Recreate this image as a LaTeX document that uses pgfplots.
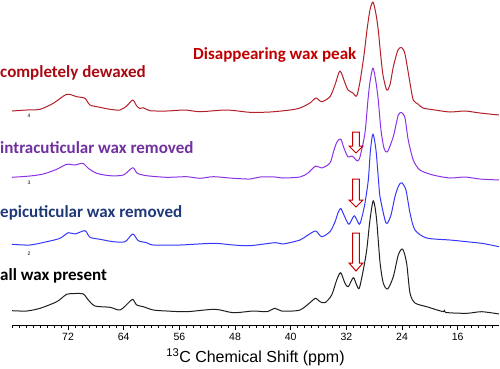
\documentclass[border=0pt]{standalone}
\usepackage{pgfplots}
\pgfplotsset{compat=1.18}
\usepackage{fontspec}
\setmainfont{Liberation Sans}
\newfontfamily\calibri{Carlito}
\definecolor{trRed}{RGB}{180,32,40}
\definecolor{trPurple}{RGB}{140,50,230}
\definecolor{trBlue}{RGB}{55,55,250}
\definecolor{trBlack}{RGB}{30,30,30}
\definecolor{lblRed}{RGB}{168,10,20}
\definecolor{lblRed2}{RGB}{192,0,0}
\definecolor{lblPurple}{RGB}{112,48,160}
\definecolor{lblBlue}{RGB}{31,56,120}
\definecolor{arrowRed}{RGB}{192,0,0}
\begin{document}
\begin{tikzpicture}
\useasboundingbox (-12pt,-43pt) rectangle (488pt,325pt);
\begin{axis}[
  scale only axis, width=487pt, height=325pt,
  xmin=10.07, xmax=80.05, x dir=reverse,
  ymin=43, ymax=368,
  axis x line=bottom, axis y line=none,
  axis line style={-, black, line width=0.8pt},
  xtick={16,24,32,40,48,56,64,72},
  minor xtick={11,12,...,80},
  tick align=outside,
  major tick length=4.5pt, minor tick length=3pt,
  xtick style={black, line width=0.7pt},
  every minor tick/.append style={line width=0.6pt},
  xticklabel style={font=\fontsize{10.5}{12}\selectfont},
  /pgf/number format/assume math mode=true,
  xlabel={\textsuperscript{13}C Chemical Shift (ppm)},
  xlabel style={font=\fontsize{16}{19}\selectfont, at={(axis description cs:0.5,0)}, anchor=center, yshift=-32pt},
  every axis plot/.append style={smooth, tension=0.45, line width=1pt, line join=round},
  clip=false,
]
% all wax present
\addplot[trBlack] coordinates {
(80.05,57.3)(77.93,57)(76.02,59.7)(73.62,66.3)(72.19,73.7)(71.00,74.5)(69.80,74)(69.08,68)(68.12,62)(65.97,60.7)(64.53,58)(63.34,65)(62.70,68.7)(62.13,63)(61.18,61.3)(59.74,58)(57.82,57)(54.95,56.3)(50.88,58.7)(48.25,55.3)(45.38,57)(43.45,56.3)(42.26,59.7)(41.30,57)(38.67,58)(36.80,68)(36.37,69.7)(35.79,66.3)(35.07,65.3)(34.11,73)(33.39,88)(32.82,95.3)(32.20,84.7)(31.73,81.3)(31.01,90.3)(30.52,83)(30.15,79.7)(29.57,98)(29.08,118)(28.61,148)(28.13,167.3)(27.68,150)(27.17,106)(26.70,85)(26.07,79)(25.26,91.3)(24.54,113)(23.91,119)(23.34,104.7)(22.86,75)(22.14,65)(20.46,61.3)(18.08,56.3)(17.93,58)(17.69,55.5)(14.71,54.7)(12.56,56.3)(10.07,54)
};
% epicuticular wax removed
\addplot[trBlue] coordinates {
(80.05,123.7)(77.46,123)(75.06,126.3)(73.15,129.7)(71.96,135.3)(71.00,134)(69.56,137.3)(68.84,130.7)(67.40,128.7)(65.49,126.3)(63.81,126.3)(62.70,134)(61.90,127.3)(60.69,125.3)(59.74,123)(55.91,123)(51.12,124.7)(48.25,123)(45.85,122.3)(42.26,125.3)(41.11,124)(38.67,128)(37.52,133)(36.41,137)(35.55,131.3)(34.36,136.3)(33.64,146)(33.21,155)(32.82,159.7)(32.35,153)(31.63,143.7)(30.87,152.3)(30.15,143.7)(29.76,151)(29.33,165)(28.85,188)(28.54,218)(28.18,234)(27.75,218)(27.39,188)(27.17,171.3)(26.45,148)(26.12,144.7)(25.59,153)(25.02,171.3)(24.51,182)(24.05,185.3)(23.44,178)(22.86,155)(22.14,138)(20.46,130)(17.11,128)(14.71,126.3)(12.37,124.5)(10.07,121.3)
};
% intracuticular wax removed
\addplot[trPurple] coordinates {
(80.05,190.7)(77.46,192)(75.55,194)(73.62,198.7)(72.19,203.7)(71.00,203)(69.89,204.7)(69.08,199.7)(67.88,194.7)(65.97,192.3)(64.05,193)(62.70,200.3)(62.04,194.7)(60.69,192.3)(57.82,190.7)(54.95,191.3)(53.03,189.7)(51.12,191.3)(48.25,189.7)(45.85,189)(44.41,191)(42.26,191)(41.11,190)(38.67,191)(37.52,195)(36.41,202)(35.55,200)(34.36,205)(33.78,218)(33.35,226)(32.82,229)(32.35,220)(31.77,211)(31.24,212)(30.84,210)(30.43,207)(30.05,211)(29.33,235)(28.90,268)(28.61,286)(28.18,300)(27.75,286)(27.42,268)(27.03,238)(26.60,220)(26.12,216)(25.26,231.3)(24.54,253)(24.05,255.3)(23.58,250)(23.11,228)(22.39,208)(21.43,198)(19.56,193)(17.11,190)(14.96,191)(12.80,189)(10.07,188)
};
% completely dewaxed
\addplot[trRed] coordinates {
(80.05,257)(77.93,258)(76.02,258.7)(74.11,264.7)(72.19,273.7)(70.75,271.3)(69.56,269.7)(68.84,263)(67.40,260.7)(65.97,258.7)(64.53,258)(63.57,262)(62.70,268)(62.13,262)(61.66,259.5)(61.18,260.3)(60.22,257.3)(57.82,257)(55.19,258)(53.03,256.3)(49.20,258)(45.85,255.7)(42.98,256)(40.10,258)(38.67,260)(37.23,265)(36.37,270)(35.55,266.3)(34.36,271.3)(33.64,283)(32.92,297)(32.20,285)(31.77,278)(31.05,275)(30.52,272)(30.05,286)(29.47,313)(29.04,338)(28.61,358)(28.18,366)(27.75,354)(27.42,338)(27.07,313)(26.74,293)(26.21,278)(25.74,283)(25.26,301)(24.59,318)(24.05,320.3)(23.58,314)(22.86,285)(22.39,268)(21.71,264)(20.99,260)(19.27,258)(17.11,256)(14.96,257)(12.80,255)(10.07,253)
};
% arrows
\draw[arrowRed, line width=1pt, fill=white]
  (axis cs:31.12,236) -- (axis cs:30.12,236) -- (axis cs:30.12,222) -- (axis cs:29.62,222)
  -- (axis cs:30.62,215) -- (axis cs:31.62,222) -- (axis cs:31.12,222) -- cycle;
\draw[arrowRed, line width=1pt, fill=white]
  (axis cs:31.12,189) -- (axis cs:30.12,189) -- (axis cs:30.12,168) -- (axis cs:29.62,168)
  -- (axis cs:30.62,161) -- (axis cs:31.62,168) -- (axis cs:31.12,168) -- cycle;
\draw[arrowRed, line width=1pt, fill=white]
  (axis cs:31.12,135) -- (axis cs:30.12,135) -- (axis cs:30.12,105) -- (axis cs:29.62,105)
  -- (axis cs:30.62,97) -- (axis cs:31.62,105) -- (axis cs:31.12,105) -- cycle;
% labels
\node[anchor=west, inner sep=0pt, text=lblRed, font={\calibri\bfseries\fontsize{17}{20}\selectfont}] at (axis cs:81.77,295) {completely dewaxed};
\node[anchor=west, inner sep=0pt, text=lblPurple, font={\calibri\bfseries\fontsize{17}{20}\selectfont}] at (axis cs:81.77,220) {intracuticular wax removed};
\node[anchor=west, inner sep=0pt, text=lblBlue, font={\calibri\bfseries\fontsize{17}{20}\selectfont}] at (axis cs:81.77,155) {epicuticular wax removed};
\node[anchor=west, inner sep=0pt, text=black, font={\calibri\bfseries\fontsize{17}{20}\selectfont}] at (axis cs:81.77,92) {all wax present};
\node[anchor=west, inner sep=0pt, text=lblRed2, font={\calibri\bfseries\fontsize{17}{20}\selectfont}] at (axis cs:54.04,313) {Disappearing wax peak};
\node[inner sep=0pt, font=\fontsize{5}{6}\selectfont] at (axis cs:77.6,252) {4};
\node[inner sep=0pt, font=\fontsize{5}{6}\selectfont] at (axis cs:77.6,185) {3};
\node[inner sep=0pt, font=\fontsize{5}{6}\selectfont] at (axis cs:77.6,114) {2};
\end{axis}
\end{tikzpicture}
\end{document}
